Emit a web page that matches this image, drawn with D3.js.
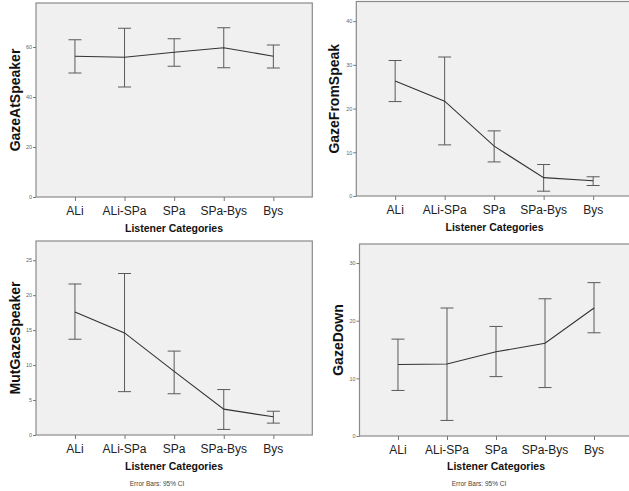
<!DOCTYPE html>
<html><head><meta charset="utf-8">
<script src="https://cdn.jsdelivr.net/npm/d3@7"></script>
<style>body{margin:0;background:#fff;}svg{display:block;font-family:Arial,"Liberation Sans",sans-serif;}</style>
</head><body>
<svg id="c" width="629" height="491"></svg>
<script>
const categories = ["ALi","ALi-SPa","SPa","SPa-Bys","Bys"];

const gazeAtSpeakerMean  = [56.3, 55.9, 57.9, 59.7, 56.3];
const gazeAtSpeakerLow   = [49.6, 44.0, 52.3, 51.7, 51.6];
const gazeAtSpeakerHigh  = [62.9, 67.5, 63.3, 67.7, 60.8];

const gazeFromSpeakMean  = [26.3, 21.7, 11.4, 4.2, 3.5];
const gazeFromSpeakLow   = [21.6, 11.7, 7.8, 1.1, 2.4];
const gazeFromSpeakHigh  = [31.0, 31.8, 14.9, 7.2, 4.4];

const mutGazeMean = [17.6, 14.6, 9.1, 3.7, 2.6];
const mutGazeLow  = [13.7, 6.2, 5.9, 0.8, 1.7];
const mutGazeHigh = [21.6, 23.1, 12.0, 6.5, 3.4];

const gazeDownMean = [12.4, 12.5, 14.6, 16.1, 22.2];
const gazeDownLow  = [7.9, 2.7, 10.3, 8.4, 17.9];
const gazeDownHigh = [16.8, 22.2, 19.0, 23.8, 26.6];

const ticksA = [0,20,40,60];
const ticksB = [0,10,20,30,40];
const ticksC = [0,5,10,15,20,25];
const ticksD = [0,10,20,30];

const xTitle = "Listener Categories";
const footnote = "Error Bars: 95% CI";

const panels = [
  {title:"GazeAtSpeaker", mean:gazeAtSpeakerMean, lo:gazeAtSpeakerLow, hi:gazeAtSpeakerHigh, ticks:ticksA, ymax:77.6,
   box:[36,3,312.3,197], titleX:15, catY:211, xtY:228, xtX:174, foot:null},
  {title:"GazeFromSpeak", mean:gazeFromSpeakMean, lo:gazeFromSpeakLow, hi:gazeFromSpeakHigh, ticks:ticksB, ymax:44.5,
   box:[356.3,1.5,632,196], titleX:334, catY:210, xtY:227, xtX:494.5, foot:null},
  {title:"MutGazeSpeaker", mean:mutGazeMean, lo:mutGazeLow, hi:mutGazeHigh, ticks:ticksC, ymax:27.75,
   box:[36,241,312.3,435], titleX:15, catY:449, xtY:466, xtX:174, foot:[157,483.5]},
  {title:"GazeDown", mean:gazeDownMean, lo:gazeDownLow, hi:gazeDownHigh, ticks:ticksD, ymax:33.3,
   box:[359.5,244,632.5,436], titleX:338, catY:449.5, xtY:466.5, xtX:496, foot:[479,484]}
];

const svg = d3.select("#c");

panels.forEach(p => {
  const [x0,y0,x1,y1] = p.box;
  const g = svg.append("g");
  const x = d3.scalePoint().domain(categories).range([x0,x1]).padding(0.785);
  const y = d3.scaleLinear().domain([0,p.ymax]).range([y1,y0]);

  g.append("rect").attr("x",x0).attr("y",y0).attr("width",x1-x0).attr("height",y1-y0)
    .attr("fill","#f0f0f0").attr("stroke","#8a8a8a").attr("stroke-width",1.2);

  const ya = g.append("g").attr("transform",`translate(${x0},0)`)
    .call(d3.axisLeft(y).tickValues(p.ticks).tickSize(3).tickPadding(1).tickFormat(d3.format("d")));
  ya.select(".domain").remove();
  ya.selectAll("line").attr("stroke","#777");
  ya.selectAll("text").attr("font-size",5.5).attr("fill","#666").attr("font-family","Arial, sans-serif");

  const xa = g.append("g").attr("transform",`translate(0,${y1})`)
    .call(d3.axisBottom(x).tickSize(4).tickFormat(""));
  xa.select(".domain").remove();
  xa.selectAll("line").attr("stroke","#777");

  g.selectAll(".cat").data(categories).enter().append("text")
    .attr("x",d=>x(d)).attr("y",p.catY).attr("dy","0.35em")
    .attr("text-anchor","middle").attr("font-size",12).attr("fill","#222").text(d=>d);

  g.append("text").attr("x",p.xtX).attr("y",p.xtY).attr("dy","0.35em")
    .attr("text-anchor","middle").attr("font-size",10.5).attr("font-weight","bold").attr("fill","#111").text(xTitle);

  g.append("text").attr("transform",`translate(${p.titleX},${(y0+y1)/2}) rotate(-90)`)
    .attr("dy","0.35em").attr("text-anchor","middle").attr("font-size",14).attr("font-weight","bold")
    .attr("fill","#111").text(p.title);

  if (p.foot) {
    g.append("text").attr("x",p.foot[0]).attr("y",p.foot[1]).attr("dy","0.35em")
      .attr("text-anchor","middle").attr("font-size",6.5).attr("fill","#444").text(footnote);
  }

  const eb = g.append("g").attr("stroke","#5a5a5a").attr("stroke-width",1).attr("fill","none");
  categories.forEach((c,i) => {
    const cx = x(c);
    eb.append("line").attr("x1",cx).attr("x2",cx).attr("y1",y(p.lo[i])).attr("y2",y(p.hi[i]));
    eb.append("line").attr("x1",cx-6.5).attr("x2",cx+6.5).attr("y1",y(p.lo[i])).attr("y2",y(p.lo[i]));
    eb.append("line").attr("x1",cx-6.5).attr("x2",cx+6.5).attr("y1",y(p.hi[i])).attr("y2",y(p.hi[i]));
  });

  const line = d3.line().x((d,i)=>x(categories[i])).y(d=>y(d));
  g.append("path").datum(p.mean).attr("d",line).attr("fill","none").attr("stroke","#333").attr("stroke-width",1.1);
});
</script>
</body></html>
